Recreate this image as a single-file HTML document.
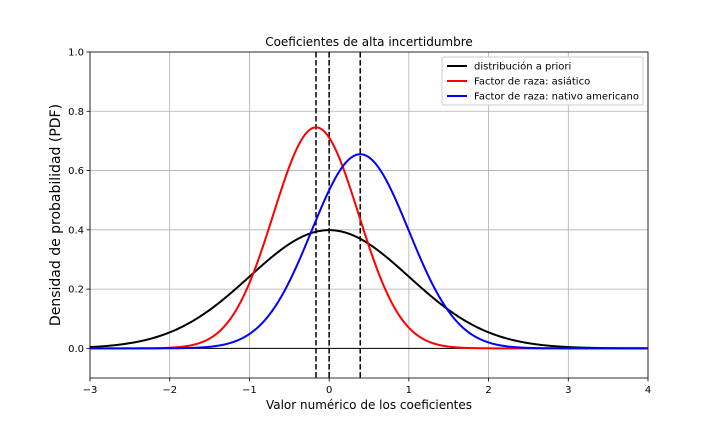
<!DOCTYPE html>
<html><head><meta charset="utf-8"><style>
body{margin:0;background:#fff;}
svg{display:block;font-family:"DejaVu Sans","Liberation Sans",sans-serif;}
</style></head><body>
<svg id="chart" width="720" height="432" viewBox="0 0 720 432"></svg>
<script>
const seriesNames=["distribución a priori","Factor de raza: asiático","Factor de raza: nativo americano"];
const seriesMeans=[0,-0.165,0.39];
const seriesSds=[1,0.535,0.609];
const seriesColors=["#000000","#ff0000","#0000ff"];
const xTicks=[-3,-2,-1,0,1,2,3,4];
const yTicks=[0.0,0.2,0.4,0.6,0.8,1.0];
const L=90,R=648,T=52,B=378,xmin=-3,xmax=4,ymin=-0.1,ymax=1.0;
const X=v=>L+(v-xmin)/(xmax-xmin)*(R-L);
const Y=v=>B-(v-ymin)/(ymax-ymin)*(B-T);
const svg=document.getElementById('chart');
const NS="http://www.w3.org/2000/svg";
function mk(tag,attrs,parent){const e=document.createElementNS(NS,tag);for(const k in attrs)e.setAttribute(k,attrs[k]);(parent||svg).appendChild(e);return e;}
function txt(s,attrs){const e=mk('text',attrs);e.textContent=s;return e;}
xTicks.forEach(t=>{const g=mk('line',{x1:X(t),x2:X(t),y1:T,y2:B,stroke:'#b0b0b0','stroke-width':0.8});


const l=txt(t<0?'\u2212'+Math.abs(t):String(t),{x:X(t),y:B+15,'font-size':10,'text-anchor':'middle'});


mk('line',{x1:X(t),x2:X(t),y1:B,y2:B+3.5,stroke:'#000','stroke-width':0.8});});
yTicks.forEach(t=>{const g=mk('line',{x1:L,x2:R,y1:Y(t),y2:Y(t),stroke:'#b0b0b0','stroke-width':0.8});


const l=txt(t.toFixed(1),{x:L-6,y:Y(t)+3.5,'font-size':10,'text-anchor':'end'});


mk('line',{x1:L-3.5,x2:L,y1:Y(t),y2:Y(t),stroke:'#000','stroke-width':0.8});});
const z=mk('line',{x1:L,x2:R,y1:Y(0),y2:Y(0),stroke:'#000','stroke-width':1});


seriesMeans.forEach(m=>{const d=mk('line',{x1:X(m),x2:X(m),y1:T,y2:B,stroke:'#000','stroke-width':1.5,'stroke-dasharray':'5.5,2.5'});

});
seriesMeans.forEach((m,i)=>{const s=seriesSds[i];let p=[];
for(let k=0;k<=700;k++){const x=xmin+(xmax-xmin)*k/700;const y=Math.exp(-0.5*((x-m)/s)**2)/(s*Math.sqrt(2*Math.PI));p.push(X(x).toFixed(2)+','+Y(y).toFixed(2));}
const c=mk('polyline',{points:p.join(' '),fill:'none',stroke:seriesColors[i],'stroke-width':2});

});
const f=mk('rect',{x:L,y:T,width:R-L,height:B-T,fill:'none',stroke:'#000','stroke-width':0.8});


const tt=txt('Coeficientes de alta incertidumbre',{x:(L+R)/2,y:46,'font-size':12,'text-anchor':'middle'});


const xt=txt('Valor numérico de los coeficientes',{x:(L+R)/2,y:409,'font-size':12,'text-anchor':'middle'});


const yt=txt('Densidad de probabilidad (PDF)',{x:0,y:0,'font-size':14,'text-anchor':'middle',transform:`translate(60,${(T+B)/2}) rotate(-90)`});


const lg=mk('rect',{x:442,y:57,width:201,height:48,fill:'#fff',stroke:'#ccc','stroke-width':1,rx:2});


seriesNames.forEach((n,i)=>{const y=66+i*15;
const ln=mk('line',{x1:447,x2:467,y1:y,y2:y,stroke:seriesColors[i],'stroke-width':2});


const t=txt(n,{x:474,y:y+3.5,'font-size':10});

});
</script>
</body></html>
